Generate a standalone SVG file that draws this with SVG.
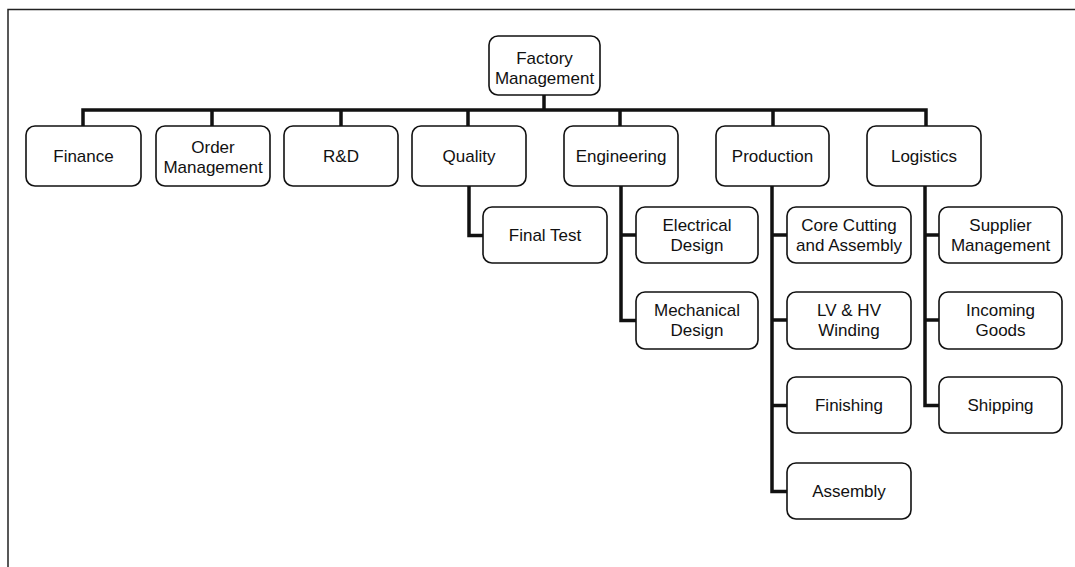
<svg xmlns="http://www.w3.org/2000/svg" width="1075" height="567" viewBox="0 0 1075 567">
<style>
.box{fill:#fff;stroke:#111;stroke-width:1.6}
.t{font-family:"Liberation Sans",Arial,sans-serif;font-size:17px;fill:#111;text-anchor:middle}
.c{fill:none;stroke:#111;stroke-width:3.5}
.frame{fill:none;stroke:#222;stroke-width:1.5}
</style>
<rect width="1075" height="567" fill="#fff"/>
<path class="frame" d="M8 567 V9.5 H1075"/>
<g id="connectors">
<path class="c" d="M544 95 V110"/>
<path class="c" d="M83 126 V110 H926 V126"/>
<path class="c" d="M212 110 V126 M341 110 V126 M468 110 V126 M620 110 V126 M773 110 V126"/>
<path class="c" d="M469 186 V235.5 H483"/>
<path class="c" d="M621 186 V320.5 H636 M621 235 H636"/>
<path class="c" d="M772 186 V491.5 H787 M772 235 H787 M772 320 H787 M772 405.5 H787"/>
<path class="c" d="M925 186 V405.5 H939 M925 235 H939 M925 320 H939"/>
</g>
<g id="factory"><rect class="box" x="489" y="36" width="111" height="59" rx="9"/><text class="t" x="544.5" y="64">Factory</text><text class="t" x="544.5" y="84">Management</text></g>
<g id="finance"><rect class="box" x="26" y="126" width="115" height="60" rx="9"/><text class="t" x="83.5" y="162">Finance</text></g>
<g id="order"><rect class="box" x="156" y="126" width="114" height="60" rx="9"/><text class="t" x="213" y="153">Order</text><text class="t" x="213" y="173">Management</text></g>
<g id="rd"><rect class="box" x="284" y="126" width="114" height="60" rx="9"/><text class="t" x="341" y="162">R&amp;D</text></g>
<g id="quality"><rect class="box" x="412" y="126" width="114" height="60" rx="9"/><text class="t" x="469" y="162">Quality</text></g>
<g id="engineering"><rect class="box" x="564" y="126" width="114" height="60" rx="9"/><text class="t" x="621" y="162">Engineering</text></g>
<g id="production"><rect class="box" x="716" y="126" width="113" height="60" rx="9"/><text class="t" x="772.5" y="162">Production</text></g>
<g id="logistics"><rect class="box" x="867" y="126" width="114" height="60" rx="9"/><text class="t" x="924" y="162">Logistics</text></g>
<g id="finaltest"><rect class="box" x="483" y="207" width="124" height="56" rx="9"/><text class="t" x="545" y="241">Final Test</text></g>
<g id="electrical"><rect class="box" x="636" y="207" width="122" height="56" rx="9"/><text class="t" x="697" y="231">Electrical</text><text class="t" x="697" y="251">Design</text></g>
<g id="mechanical"><rect class="box" x="636" y="292" width="122" height="57" rx="9"/><text class="t" x="697" y="316">Mechanical</text><text class="t" x="697" y="336">Design</text></g>
<g id="core"><rect class="box" x="787" y="207" width="124" height="56" rx="9"/><text class="t" x="849" y="231">Core Cutting</text><text class="t" x="849" y="251">and Assembly</text></g>
<g id="winding"><rect class="box" x="787" y="292" width="124" height="57" rx="9"/><text class="t" x="849" y="316">LV &amp; HV</text><text class="t" x="849" y="336">Winding</text></g>
<g id="finishing"><rect class="box" x="787" y="377" width="124" height="56" rx="9"/><text class="t" x="849" y="411">Finishing</text></g>
<g id="assembly"><rect class="box" x="787" y="463" width="124" height="56" rx="9"/><text class="t" x="849" y="497">Assembly</text></g>
<g id="supplier"><rect class="box" x="939" y="207" width="123" height="56" rx="9"/><text class="t" x="1000.5" y="231">Supplier</text><text class="t" x="1000.5" y="251">Management</text></g>
<g id="incoming"><rect class="box" x="939" y="292" width="123" height="57" rx="9"/><text class="t" x="1000.5" y="316">Incoming</text><text class="t" x="1000.5" y="336">Goods</text></g>
<g id="shipping"><rect class="box" x="939" y="377" width="123" height="56" rx="9"/><text class="t" x="1000.5" y="411">Shipping</text></g>
</svg>
